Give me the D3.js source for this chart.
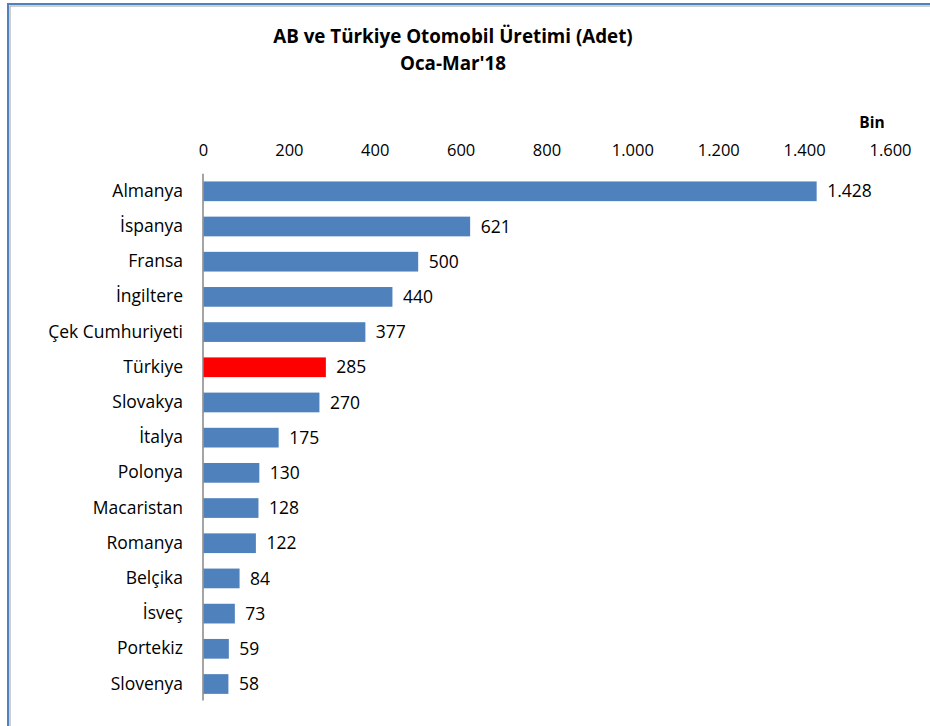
<!DOCTYPE html>
<html>
<head>
<meta charset="utf-8">
<script src="https://cdn.jsdelivr.net/npm/d3@7"></script>
<style>
  body { margin: 0; background: #fff; }
  text { font-family: "Open Sans", Lato, sans-serif; }
</style>
</head>
<body>
<div id="chart"></div>
<script>
// Veriler
const countries = ["Almanya", "İspanya", "Fransa", "İngiltere", "Çek Cumhuriyeti", "Türkiye", "Slovakya",
  "İtalya", "Polonya", "Macaristan", "Romanya", "Belçika", "İsveç", "Portekiz", "Slovenya"];
const production = [1428, 621, 500, 440, 377, 285, 270, 175, 130, 128, 122, 84, 73, 59, 58];
const xTicks = [0, 200, 400, 600, 800, 1000, 1200, 1400, 1600];
const highlight = "Türkiye";

const W = 930, H = 726;
const FONT = "'Open Sans', Lato, sans-serif";
const fmt = d => d.toLocaleString("de-DE");

const svg = d3.select("#chart").append("svg")
  .attr("width", W).attr("height", H);

// Çerçeve
svg.append("rect").attr("x", 8).attr("y", 4).attr("width", W).attr("height", H)
  .attr("fill", "none").attr("stroke", "#4f81bd").attr("stroke-width", 2);
svg.append("rect").attr("x", 10).attr("y", 6).attr("width", W).attr("height", H)
  .attr("fill", "none").attr("stroke", "#a0a0a0").attr("stroke-width", 1);

// Başlık
svg.append("text").attr("x", 453).attr("y", 43).attr("text-anchor", "middle")
  .style("font-size", "18.8px").style("font-weight", "bold").text("AB ve Türkiye Otomobil Üretimi (Adet)");
svg.append("text").attr("x", 453).attr("y", 70).attr("text-anchor", "middle")
  .style("font-size", "18.8px").style("font-weight", "bold").text("Oca-Mar'18");

const x = d3.scaleLinear().domain([0, 1600]).range([203, 890]);
const y = d3.scaleBand().domain(countries).range([173.7, 701.6]).paddingInner(0.44).paddingOuter(0.22);

// Üst eksen
const xAxis = svg.append("g").attr("transform", "translate(0,150)")
  .call(d3.axisTop(x).tickValues(xTicks).tickFormat(fmt).tickSize(0).tickPadding(0));
xAxis.select(".domain").remove();
xAxis.selectAll("text").style("font-size", "16.5px").attr("fill", "#000").attr("dy", "0.35em")
  .style("font-family", FONT);

svg.append("text").attr("x", 872).attr("y", 128).attr("text-anchor", "middle")
  .style("font-size", "15.5px").style("font-weight", "bold").text("Bin");

// Kategori ekseni
const yAxis = svg.append("g").attr("transform", "translate(203,0)")
  .call(d3.axisLeft(y).tickSize(0).tickPadding(20));
yAxis.select(".domain").attr("stroke", "#868686").attr("stroke-width", 1.5)
  .attr("d", `M0,${173.7}V${700.5}`);
yAxis.selectAll("text").style("font-size", "17.5px").attr("fill", "#000")
  .style("font-family", FONT);

// Çubuklar
const rows = countries.map((c, i) => ({ country: c, value: production[i] }));
svg.append("g").selectAll("rect").data(rows).join("rect")
  .attr("x", x(0) + 0.5)
  .attr("y", d => y(d.country))
  .attr("width", d => x(d.value) - x(0))
  .attr("height", y.bandwidth())
  .attr("fill", d => d.country === highlight ? "#ff0000" : "#4f81bd");

svg.append("g").selectAll("text").data(rows).join("text")
  .attr("x", d => x(d.value) + 11)
  .attr("y", d => y(d.country) + y.bandwidth() / 2)
  .attr("dy", "0.35em")
  .style("font-size", "17.5px")
  .text(d => fmt(d.value));
</script>
</body>
</html>
